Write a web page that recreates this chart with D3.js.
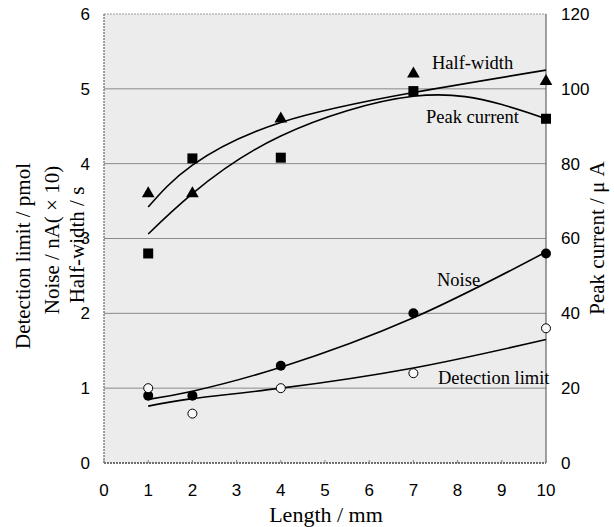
<!DOCTYPE html>
<html>
<head>
<meta charset="utf-8">
<script src="https://cdn.jsdelivr.net/npm/d3@7"></script>
<style>
  body { margin: 0; background: #fff; }
  .tick-label { font-family: "Liberation Sans", Arial, sans-serif; font-size: 17px; fill: #000; }
  .title { font-family: "Liberation Serif", "Times New Roman", serif; font-size: 21px; fill: #000; }
  .series-label { font-family: "Liberation Serif", "Times New Roman", serif; font-size: 18.5px; fill: #000; }
</style>
</head>
<body>
<div id="chart"></div>
<script>
// Lengths where measurements were taken
const lengths = [1, 2, 4, 7, 10];

// Measured points (left axis units, peak current in right axis units)
const halfWidth = [3.6, 3.6, 4.6, 5.2, 5.1];
const peakCurrent = [56, 81.4, 81.6, 99.4, 92]; // uA
const noise = [0.9, 0.9, 1.3, 2.0, 2.8];
const detectionLimit = [1.0, 0.66, 1.0, 1.2, 1.8];

// Fitted curves
const halfWidthFitX = [1, 2, 4, 7, 10];
const halfWidthFitY = [3.42, 3.98, 4.55, 4.95, 5.25];
const peakFitX = [1, 2, 4, 7, 9, 10];
const peakFitY = [61.2, 72, 87.4, 98, 95.8, 92]; // uA
const noiseFitX = [1, 2, 4, 7, 10];
const noiseFitY = [0.85, 0.96, 1.28, 1.94, 2.82];
const detFitX = [1, 2, 4, 7, 10];
const detFitY = [0.76, 0.86, 1.0, 1.27, 1.65];

// Axis ticks
const xTicks = [0, 1, 2, 3, 4, 5, 6, 7, 8, 9, 10];
const leftTicks = [0, 1, 2, 3, 4, 5, 6];
const rightTicks = [0, 20, 40, 60, 80, 100, 120];

const W = 614, H = 527;
const plot = { left: 104, right: 546, top: 14, bottom: 463 };

const svg = d3.select("#chart").append("svg")
  .attr("width", W)
  .attr("height", H);

const x = d3.scaleLinear().domain([0, 10]).range([plot.left, plot.right]);
const yL = d3.scaleLinear().domain([0, 6]).range([plot.bottom, plot.top]);
const yR = d3.scaleLinear().domain([0, 120]).range([plot.bottom, plot.top]);

// background
svg.append("rect")
  .attr("x", plot.left)
  .attr("y", plot.top)
  .attr("width", plot.right - plot.left)
  .attr("height", plot.bottom - plot.top)
  .attr("fill", "#ececec");

// gridlines
svg.append("g")
  .selectAll("line")
  .data(leftTicks.filter((d) => d > 0 && d < 6))
  .enter()
  .append("line")
  .attr("x1", plot.left)
  .attr("x2", plot.right)
  .attr("y1", (d) => yL(d))
  .attr("y2", (d) => yL(d))
  .attr("stroke", "#8a8a8a")
  .attr("stroke-width", 1);

// frame
svg.append("line")
  .attr("x1", plot.left).attr("x2", plot.right)
  .attr("y1", plot.top).attr("y2", plot.top)
  .attr("stroke", "#9a9a9a").attr("stroke-dasharray", "2,1");
svg.append("line")
  .attr("x1", plot.left).attr("x2", plot.right)
  .attr("y1", plot.bottom).attr("y2", plot.bottom)
  .attr("stroke", "#444").attr("stroke-width", 1.5).attr("stroke-dasharray", "2,1");
svg.append("line")
  .attr("x1", plot.left).attr("x2", plot.left)
  .attr("y1", plot.top).attr("y2", plot.bottom)
  .attr("stroke", "#666").attr("stroke-width", 1.2).attr("stroke-dasharray", "2,1");
svg.append("line")
  .attr("x1", plot.right).attr("x2", plot.right)
  .attr("y1", plot.top).attr("y2", plot.bottom)
  .attr("stroke", "#666").attr("stroke-width", 1.2);

// x ticks (small, inward)
svg.append("g")
  .selectAll("line")
  .data(xTicks)
  .enter()
  .append("line")
  .attr("x1", (d) => x(d)).attr("x2", (d) => x(d))
  .attr("y1", plot.bottom).attr("y2", plot.bottom - 3)
  .attr("stroke", "#888");

// x tick labels
svg.append("g")
  .selectAll("text")
  .data(xTicks)
  .enter()
  .append("text")
  .attr("class", "tick-label")
  .attr("x", (d) => x(d))
  .attr("y", 496)
  .attr("text-anchor", "middle")
  .text((d) => d);

// left tick labels
svg.append("g")
  .selectAll("text")
  .data(leftTicks)
  .enter()
  .append("text")
  .attr("class", "tick-label")
  .attr("x", 90)
  .attr("y", (d) => yL(d))
  .attr("dy", "0.35em")
  .attr("text-anchor", "end")
  .text((d) => d);

// right tick labels
svg.append("g")
  .selectAll("text")
  .data(rightTicks)
  .enter()
  .append("text")
  .attr("class", "tick-label")
  .attr("x", 561)
  .attr("y", (d) => yR(d))
  .attr("dy", "0.35em")
  .attr("text-anchor", "start")
  .text((d) => d);

// axis titles
svg.append("text")
  .attr("class", "title")
  .attr("x", 326)
  .attr("y", 522)
  .attr("text-anchor", "middle")
  .style("font-size", "22px")
  .text("Length / mm");

const leftTitles = [
  { text: "Detection limit / pmol", cx: 23, cy: 256 },
  { text: "Noise / nA( \u00d7 10)", cx: 52, cy: 240 },
  { text: "Half-width / s", cx: 77, cy: 245 },
];
svg.append("g")
  .selectAll("text")
  .data(leftTitles)
  .enter()
  .append("text")
  .attr("class", "title")
  .attr("transform", (d) => `translate(${d.cx},${d.cy}) rotate(-90)`)
  .attr("dy", "0.35em")
  .attr("text-anchor", "middle")
  .text((d) => d.text);

svg.append("text")
  .attr("class", "title")
  .attr("transform", "translate(597,238) rotate(-90)")
  .attr("dy", "0.35em")
  .attr("text-anchor", "middle")
  .text("Peak current / \u03bc A");

// fitted curves
const lineL = d3.line()
  .x((d) => x(d[0]))
  .y((d) => yL(d[1]))
  .curve(d3.curveNatural);
const lineR = d3.line()
  .x((d) => x(d[0]))
  .y((d) => yR(d[1]))
  .curve(d3.curveNatural);

const curves = [
  { gen: lineL, pts: d3.zip(halfWidthFitX, halfWidthFitY) },
  { gen: lineR, pts: d3.zip(peakFitX, peakFitY) },
  { gen: lineL, pts: d3.zip(noiseFitX, noiseFitY) },
  { gen: lineL, pts: d3.zip(detFitX, detFitY) },
];
svg.append("g")
  .selectAll("path")
  .data(curves)
  .enter()
  .append("path")
  .attr("d", (d) => d.gen(d.pts))
  .attr("fill", "none")
  .attr("stroke", "#000")
  .attr("stroke-width", 1.6);

// markers
const tri = d3.symbol().type(d3.symbolTriangle).size(70);
svg.append("g")
  .selectAll("path")
  .data(d3.zip(lengths, halfWidth))
  .enter()
  .append("path")
  .attr("d", tri)
  .attr("transform", (d) => `translate(${x(d[0])},${yL(d[1])})`)
  .attr("fill", "#000");

svg.append("g")
  .selectAll("rect")
  .data(d3.zip(lengths, peakCurrent))
  .enter()
  .append("rect")
  .attr("x", (d) => x(d[0]) - 5)
  .attr("y", (d) => yR(d[1]) - 5)
  .attr("width", 10)
  .attr("height", 10)
  .attr("fill", "#000");

svg.append("g")
  .selectAll("circle")
  .data(d3.zip(lengths, noise))
  .enter()
  .append("circle")
  .attr("cx", (d) => x(d[0]))
  .attr("cy", (d) => yL(d[1]))
  .attr("r", 5)
  .attr("fill", "#000");

svg.append("g")
  .selectAll("circle")
  .data(d3.zip(lengths, detectionLimit))
  .enter()
  .append("circle")
  .attr("cx", (d) => x(d[0]))
  .attr("cy", (d) => yL(d[1]))
  .attr("r", 4.5)
  .attr("fill", "#f8f8f8")
  .attr("stroke", "#000")
  .attr("stroke-width", 1);

// series labels
const seriesLabels = [
  { text: "Half-width", x: 432, y: 69 },
  { text: "Peak current", x: 426, y: 123 },
  { text: "Noise", x: 437, y: 286 },
  { text: "Detection limit", x: 438, y: 384 },
];
svg.append("g")
  .selectAll("text")
  .data(seriesLabels)
  .enter()
  .append("text")
  .attr("class", "series-label")
  .attr("x", (d) => d.x)
  .attr("y", (d) => d.y)
  .text((d) => d.text);
</script>
</body>
</html>
